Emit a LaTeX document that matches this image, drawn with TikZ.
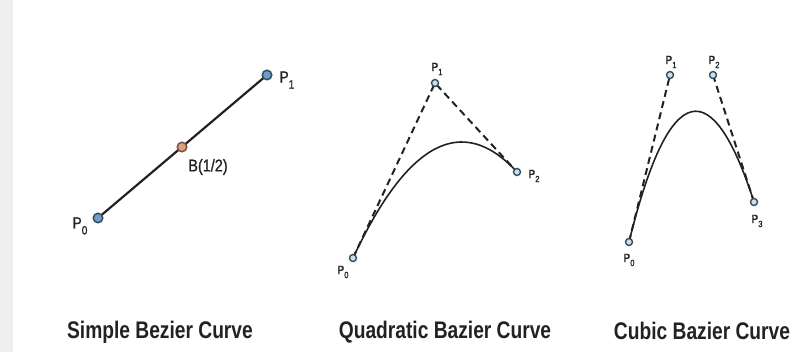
\documentclass[tikz,border=0pt]{standalone}
\usepackage{fontspec}
\usetikzlibrary{calc}
\setmainfont{Liberation Sans}
\newfontfamily\titlefont[FakeStretch=0.80]{Liberation Sans}
\newfontfamily\lblfont[FakeStretch=0.85,FakeBold=1.2]{Liberation Sans}
\newcommand\ptlab[4]{{\fontsize{#1}{#1}\selectfont P}\raisebox{-#3pt}{\fontsize{#2}{#2}\selectfont #4}}
\definecolor{ptedge}{HTML}{2F4F5F}
\definecolor{ptfill}{HTML}{6F9CC8}
\definecolor{midfill}{HTML}{E0A080}
\definecolor{midedge}{HTML}{7A5040}
\definecolor{strip}{HTML}{EEEEEE}
\definecolor{inkc}{HTML}{222222}
\begin{document}
\begin{tikzpicture}[x=1pt,y=-1pt,
  bigpt/.style={circle, draw=ptedge, fill=ptfill, line width=1.5pt, minimum size=9.5pt, inner sep=0pt},
  midpt/.style={circle, draw=midedge, fill=midfill, line width=1.5pt, minimum size=9.5pt, inner sep=0pt},
  smallpt/.style={circle, draw=ptedge, fill=ptfill!35, line width=1.4pt, minimum size=7pt, inner sep=0pt},
  lbl/.style={font=\lblfont, text=inkc, inner sep=0pt},
  title/.style={font=\titlefont\bfseries\fontsize{24}{26}\selectfont, text=inkc, inner sep=0pt, anchor=base},
  curve/.style={line width=1.6pt, inkc},
  segment/.style={line width=2.2pt, inkc},
  tangent/.style={line width=2pt, inkc, dash pattern=on 7pt off 4.5pt}]
\useasboundingbox (0,0) rectangle (792,352);
\fill[strip] (0,0) rectangle (13,352);

% Simple
\coordinate (s0) at (98,218);
\coordinate (s1) at (267,75);
\coordinate (sb) at (182,147);
\draw[segment] (s0) -- (s1);
\node[bigpt] (S0) at (s0) {};
\node[bigpt] (S1) at (s1) {};
\node[midpt] (SB) at (sb) {};
\node[lbl] (S0l) at (80,226) {\ptlab{16}{12}{6}{0}};
\node[lbl] (S1l) at (287,80) {\ptlab{16}{12}{6}{1}};
\node[lbl, font=\lblfont\fontsize{17}{17}\selectfont] (SBl) at (208,167) {B(1/2)};
\node[title] (T1) at (160,338) {Simple Bezier Curve};

% Quadratic
\coordinate (q0) at (353,258);
\coordinate (q1) at (435,83);
\coordinate (q2) at (517,172);
\draw[tangent] (q0) -- (q1) -- (q2);
\draw[curve] (q0) .. controls ($(q0)!2/3!(q1)$) and ($(q2)!2/3!(q1)$) .. (q2);
\node[smallpt] (Q0) at (q0) {};
\node[smallpt] (Q1) at (q1) {};
\node[smallpt] (Q2) at (q2) {};
\node[lbl] (Q0l) at (343,272) {\ptlab{12}{9}{4}{0}};
\node[lbl] (Q1l) at (437,69) {\ptlab{12}{9}{4}{1}};
\node[lbl] (Q2l) at (534,176) {\ptlab{12}{9}{4}{2}};
\node[title] (T2) at (445,338) {Quadratic Bazier Curve};

% Cubic
\coordinate (c0) at (629,242);
\coordinate (c1) at (670,75);
\coordinate (c2) at (713,75);
\coordinate (c3) at (754,202);
\draw[tangent] (c0) -- (c1);
\draw[tangent] (c2) -- (c3);
\draw[curve] (c0) .. controls (c1) and (c2) .. (c3);
\node[smallpt] (C0) at (c0) {};
\node[smallpt] (C1) at (c1) {};
\node[smallpt] (C2) at (c2) {};
\node[smallpt] (C3) at (c3) {};
\node[lbl] (C0l) at (629,260) {\ptlab{12}{9}{4}{0}};
\node[lbl] (C1l) at (671,62) {\ptlab{12}{9}{4}{1}};
\node[lbl] (C2l) at (714,62) {\ptlab{12}{9}{4}{2}};
\node[lbl] (C3l) at (757,221) {\ptlab{12}{9}{4}{3}};
\node[title] (T3) at (702,340) {Cubic Bazier Curve};
\end{tikzpicture}
\end{document}
